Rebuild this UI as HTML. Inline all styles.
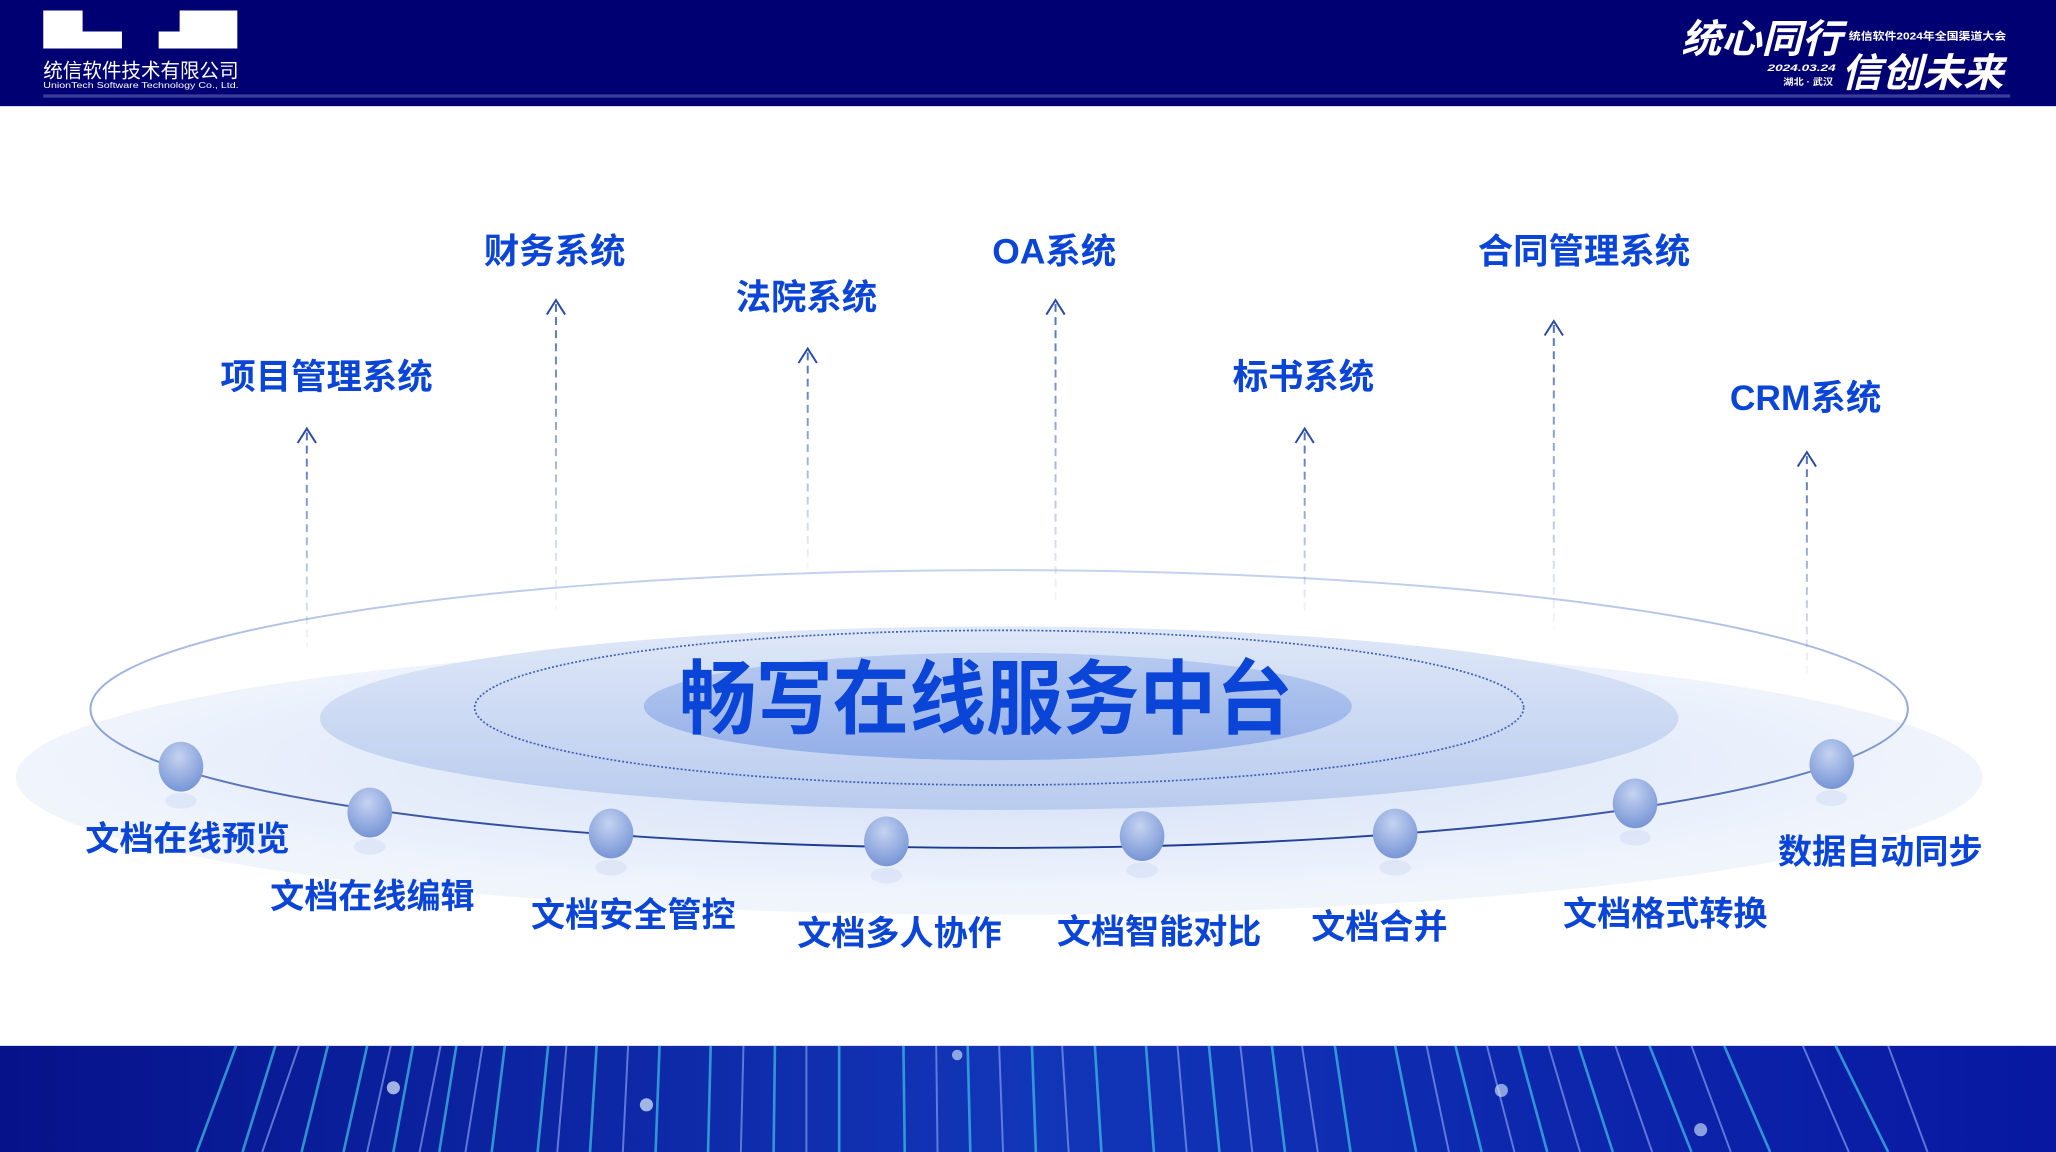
<!DOCTYPE html>
<html><head><meta charset="utf-8">
<style>
html,body{margin:0;padding:0;background:#fff;}
svg{display:block;}
text{font-family:"Liberation Sans","Noto Sans CJK SC",sans-serif;font-weight:bold;}
</style></head>
<body>
<svg width="2056" height="1152" viewBox="0 0 1568 879" preserveAspectRatio="none" xmlns="http://www.w3.org/2000/svg">
<defs>
<radialGradient id="gOuter" cx="0.5" cy="0.45" r="0.5">
<stop offset="0" stop-color="#c9d8f3"/><stop offset="0.7" stop-color="#e3ebfa"/><stop offset="1" stop-color="#eef3fc"/>
</radialGradient>
<linearGradient id="gMid" x1="0" y1="0" x2="0" y2="1">
<stop offset="0" stop-color="#dfe8f8"/><stop offset="1" stop-color="#b9cbee"/>
</linearGradient>
<linearGradient id="gIn" x1="0" y1="0" x2="0" y2="1">
<stop offset="0" stop-color="#b7caf0"/><stop offset="1" stop-color="#93afe8"/>
</linearGradient>
<radialGradient id="ball" cx="0.45" cy="0.3" r="0.7">
<stop offset="0" stop-color="#c5d3f1"/><stop offset="1" stop-color="#7795d6"/>
</radialGradient>
<linearGradient id="band" x1="0" y1="0" x2="1" y2="0">
<stop offset="0" stop-color="#06128a"/><stop offset="0.5" stop-color="#1236b8"/><stop offset="1" stop-color="#0818a0"/>
</linearGradient>
<linearGradient id="a1" gradientUnits="userSpaceOnUse" x1="0" y1="330" x2="0" y2="495"><stop offset="0" stop-color="#4e6fb5"/><stop offset="1" stop-color="#4e6fb5" stop-opacity="0.05"/></linearGradient>
<linearGradient id="a2" gradientUnits="userSpaceOnUse" x1="0" y1="232" x2="0" y2="465"><stop offset="0" stop-color="#4e6fb5"/><stop offset="1" stop-color="#4e6fb5" stop-opacity="0.05"/></linearGradient>
<linearGradient id="a3" gradientUnits="userSpaceOnUse" x1="0" y1="269" x2="0" y2="435"><stop offset="0" stop-color="#4e6fb5"/><stop offset="1" stop-color="#4e6fb5" stop-opacity="0.05"/></linearGradient>
<linearGradient id="a4" gradientUnits="userSpaceOnUse" x1="0" y1="232" x2="0" y2="460"><stop offset="0" stop-color="#4e6fb5"/><stop offset="1" stop-color="#4e6fb5" stop-opacity="0.05"/></linearGradient>
<linearGradient id="a5" gradientUnits="userSpaceOnUse" x1="0" y1="330" x2="0" y2="470"><stop offset="0" stop-color="#4e6fb5"/><stop offset="1" stop-color="#4e6fb5" stop-opacity="0.05"/></linearGradient>
<linearGradient id="a6" gradientUnits="userSpaceOnUse" x1="0" y1="248" x2="0" y2="480"><stop offset="0" stop-color="#4e6fb5"/><stop offset="1" stop-color="#4e6fb5" stop-opacity="0.05"/></linearGradient>
<linearGradient id="a7" gradientUnits="userSpaceOnUse" x1="0" y1="348" x2="0" y2="515"><stop offset="0" stop-color="#4e6fb5"/><stop offset="1" stop-color="#4e6fb5" stop-opacity="0.05"/></linearGradient>
<linearGradient id="ringStroke" x1="0" y1="0" x2="0" y2="1">
<stop offset="0" stop-color="#c6d3ef"/><stop offset="0.6" stop-color="#8aa0d4"/><stop offset="1" stop-color="#1c3a94"/>
</linearGradient>
</defs>

<rect x="0" y="0" width="1568" height="81" fill="#000073"/>
<rect x="33" y="72" width="1500" height="2.5" fill="#3c3c9c"/>
<path d="M33 8H63V24H93V37H33Z" fill="#fff"/>
<path d="M137 8H181V37H121V24H137Z" fill="#fff"/>
<text x="33" y="59" font-size="15" fill="#fff" textLength="149" lengthAdjust="spacingAndGlyphs" style="font-weight:normal">统信软件技术有限公司</text>
<text x="33" y="67" font-size="6.5" fill="#fff" textLength="149" lengthAdjust="spacingAndGlyphs" style="font-weight:normal">UnionTech Software Technology Co., Ltd.</text>
<text x="1282" y="40" font-size="30" fill="#fff" font-style="italic" textLength="123" lengthAdjust="spacingAndGlyphs">统心同行</text>
<text x="1410" y="30" font-size="8" fill="#fff" textLength="120" lengthAdjust="spacingAndGlyphs">统信软件2024年全国渠道大会</text>
<text x="1348" y="54" font-size="7" fill="#fff" font-style="italic" textLength="52" lengthAdjust="spacingAndGlyphs">2024.03.24</text>
<text x="1360" y="65" font-size="7" fill="#fff" textLength="38" lengthAdjust="spacingAndGlyphs">湖北 · 武汉</text>
<text x="1404" y="66" font-size="30" fill="#fff" font-style="italic" textLength="124" lengthAdjust="spacingAndGlyphs">信创未来</text>

<ellipse cx="762" cy="593" rx="750" ry="105" fill="url(#gOuter)" opacity="0.85"/>
<ellipse cx="762" cy="541" rx="693" ry="106" fill="none" stroke="url(#ringStroke)" stroke-width="1.5"/>
<ellipse cx="762" cy="548" rx="518" ry="70" fill="url(#gMid)"/>
<ellipse cx="762" cy="540" rx="400" ry="59" fill="none" stroke="#3d5fb8" stroke-width="1.3" stroke-dasharray="1.5 1.5"/>
<ellipse cx="761" cy="539" rx="270" ry="41" fill="url(#gIn)"/>
<text x="752" y="555" font-size="62" fill="#0a45d8" text-anchor="middle" textLength="468" lengthAdjust="spacingAndGlyphs">畅写在线服务中台</text>

<g stroke-width="1.5" stroke-dasharray="6 4" fill="none">
<line x1="234" y1="330" x2="234" y2="495" stroke="url(#a1)"/>
<line x1="424" y1="232" x2="424" y2="465" stroke="url(#a2)"/>
<line x1="616" y1="269" x2="616" y2="435" stroke="url(#a3)"/>
<line x1="805" y1="232" x2="805" y2="460" stroke="url(#a4)"/>
<line x1="995" y1="330" x2="995" y2="470" stroke="url(#a5)"/>
<line x1="1185" y1="248" x2="1185" y2="480" stroke="url(#a6)"/>
<line x1="1378" y1="348" x2="1378" y2="515" stroke="url(#a7)"/>
</g>
<g stroke="#2a4aa8" stroke-width="1.5" fill="none">
<path d="M227 338L234 327L241 338"/>
<path d="M417 240L424 229L431 240"/>
<path d="M609 277L616 266L623 277"/>
<path d="M798 240L805 229L812 240"/>
<path d="M988 338L995 327L1002 338"/>
<path d="M1178 256L1185 245L1192 256"/>
<path d="M1371 356L1378 345L1385 356"/>
</g>
<g font-size="27" fill="#0a45d8" text-anchor="middle">
<text x="249" y="297">项目管理系统</text>
<text x="423" y="201">财务系统</text>
<text x="615" y="236">法院系统</text>
<text x="804" y="201">OA系统</text>
<text x="994" y="297">标书系统</text>
<text x="1208" y="201">合同管理系统</text>
<text x="1377" y="313">CRM系统</text>
</g>

<g>
<g transform="translate(138,585)"><ellipse cx="0" cy="26" rx="12" ry="6" fill="#b5c6ea" opacity="0.25"/><ellipse rx="17" ry="19" fill="url(#ball)"/></g>
<g transform="translate(282,620)"><ellipse cx="0" cy="26" rx="12" ry="6" fill="#b5c6ea" opacity="0.25"/><ellipse rx="17" ry="19" fill="url(#ball)"/></g>
<g transform="translate(466,636)"><ellipse cx="0" cy="26" rx="12" ry="6" fill="#b5c6ea" opacity="0.25"/><ellipse rx="17" ry="19" fill="url(#ball)"/></g>
<g transform="translate(676,642)"><ellipse cx="0" cy="26" rx="12" ry="6" fill="#b5c6ea" opacity="0.25"/><ellipse rx="17" ry="19" fill="url(#ball)"/></g>
<g transform="translate(871,638)"><ellipse cx="0" cy="26" rx="12" ry="6" fill="#b5c6ea" opacity="0.25"/><ellipse rx="17" ry="19" fill="url(#ball)"/></g>
<g transform="translate(1064,636)"><ellipse cx="0" cy="26" rx="12" ry="6" fill="#b5c6ea" opacity="0.25"/><ellipse rx="17" ry="19" fill="url(#ball)"/></g>
<g transform="translate(1247,613)"><ellipse cx="0" cy="26" rx="12" ry="6" fill="#b5c6ea" opacity="0.25"/><ellipse rx="17" ry="19" fill="url(#ball)"/></g>
<g transform="translate(1397,583)"><ellipse cx="0" cy="26" rx="12" ry="6" fill="#b5c6ea" opacity="0.25"/><ellipse rx="17" ry="19" fill="url(#ball)"/></g>
</g>
<g font-size="26" fill="#0a45d8" text-anchor="middle">
<text x="143" y="649">文档在线预览</text>
<text x="284" y="693">文档在线编辑</text>
<text x="483" y="707">文档安全管控</text>
<text x="686" y="721">文档多人协作</text>
<text x="884" y="720">文档智能对比</text>
<text x="1052" y="716">文档合并</text>
<text x="1270" y="706">文档格式转换</text>
<text x="1434" y="659">数据自动同步</text>
</g>

<rect x="0" y="798" width="1568" height="81" fill="url(#band)"/>
<g fill="none" opacity="0.7">
<g stroke="#3fc4e8" stroke-width="2">
<path d="M150 879L180 798"/><path d="M185 879L210 798"/><path d="M230 879L250 798"/><path d="M262 879L280 798"/>
<path d="M300 879L315 798"/><path d="M335 879L348 798"/><path d="M375 879L385 798"/><path d="M410 879L418 798"/>
<path d="M450 879L455 798"/><path d="M500 879L503 798"/><path d="M540 879L542 798"/><path d="M590 879L591 798"/>
<path d="M640 879L640 798"/><path d="M690 879L689 798"/><path d="M740 879L738 798"/><path d="M790 879L787 798"/>
<path d="M840 879L835 798"/><path d="M880 879L874 798"/><path d="M930 879L922 798"/><path d="M980 879L970 798"/>
<path d="M1030 879L1018 798"/><path d="M1080 879L1064 798"/><path d="M1130 879L1110 798"/><path d="M1180 879L1158 798"/>
<path d="M1230 879L1204 798"/><path d="M1290 879L1258 798"/><path d="M1350 879L1315 798"/><path d="M1440 879L1400 798"/>
</g>
<g stroke="#7f9cf0" stroke-width="1.5">
<path d="M200 879L228 798"/><path d="M280 879L298 798"/><path d="M320 879L336 798"/><path d="M355 879L368 798"/>
<path d="M425 879L432 798"/><path d="M475 879L479 798"/><path d="M565 879L567 798"/><path d="M615 879L615 798"/>
<path d="M715 879L714 798"/><path d="M765 879L762 798"/><path d="M815 879L810 798"/><path d="M905 879L898 798"/>
<path d="M955 879L946 798"/><path d="M1005 879L993 798"/><path d="M1105 879L1088 798"/><path d="M1155 879L1134 798"/>
<path d="M1205 879L1181 798"/><path d="M1260 879L1232 798"/><path d="M1320 879L1290 798"/><path d="M1410 879L1375 798"/>
<path d="M1470 879L1440 798"/>
</g>
</g>
<circle cx="300" cy="830" r="5" fill="#e0f4ff" opacity="0.7"/>
<circle cx="493" cy="843" r="5" fill="#e0f4ff" opacity="0.7"/>
<circle cx="1145" cy="832" r="5" fill="#e0f4ff" opacity="0.6"/>
<circle cx="1297" cy="862" r="5" fill="#e0f4ff" opacity="0.6"/>
<circle cx="730" cy="805" r="4" fill="#e0f4ff" opacity="0.6"/>
</svg>
</body></html>
